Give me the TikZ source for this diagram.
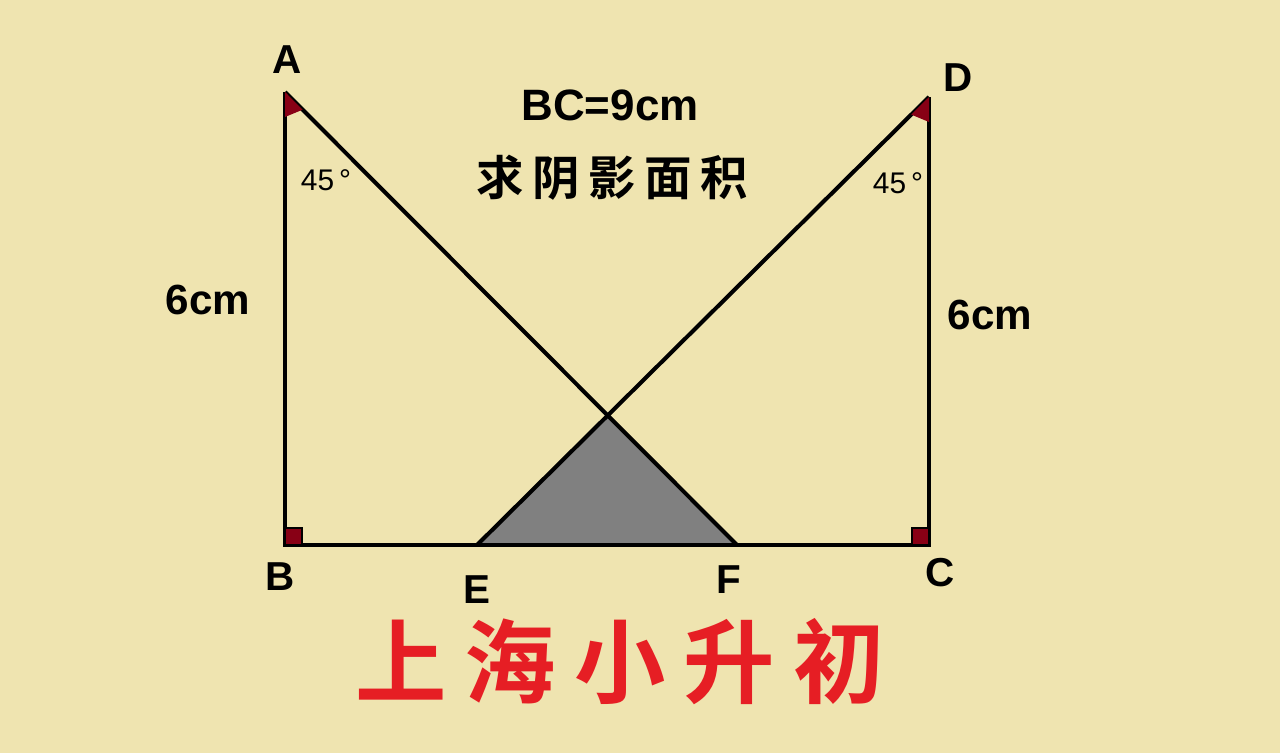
\documentclass[tikz,border=0pt]{standalone}
\usepackage{fontspec}
\setmainfont{Liberation Sans}
\newfontfamily\cjk{Noto Sans CJK SC Bold}
\usetikzlibrary{calc}
\definecolor{paper}{RGB}{239,228,176}
\definecolor{darkred}{RGB}{136,0,21}
\definecolor{titlered}{RGB}{230,30,36}
\definecolor{shadegray}{RGB}{128,128,128}
\tikzset{
    edge/.style={line width=2.3pt},
    anglemark/.style={fill=darkred},
    rightmark/.style={fill=darkred, draw=black, line width=1.3pt},
    pointlabel/.style={font=\bfseries\fontsize{23}{23}\selectfont},
    lengthlabel/.style={font=\bfseries\fontsize{24}{24}\selectfont},
    degreelabel/.style={font=\fontsize{17}{17}\selectfont}
}
\begin{document}
\begin{tikzpicture}[x=0.02cm, y=-0.02cm]

    % background
    \fill[paper] (0,0) rectangle (1280,753);
    \useasboundingbox (0,0) rectangle (1280,753);

    % points
    \coordinate (A) at (285,92);
    \coordinate (B) at (285,545);
    \coordinate (C) at (929,545);
    \coordinate (D) at (929,97);
    \coordinate (E) at (477,545);
    \coordinate (F) at (737,545);
    \coordinate (O) at (intersection of A--F and D--E);

    % shaded triangle
    \fill[shadegray] (E) -- (O) -- (F) -- cycle;

    % sides
    \draw[edge] (A) -- (B) -- (C) -- (D);
    \draw[edge] (A) -- (F);
    \draw[edge] (D) -- (E);

    % angle marks
    \fill[anglemark] (A) -- ($(A)!0.5cm!(B)$) -- ($(A)!0.5cm!(F)$) -- cycle;
    \fill[anglemark] (D) -- ($(D)!0.5cm!(C)$) -- ($(D)!0.5cm!(E)$) -- cycle;
    \draw[rightmark] (B) rectangle ++(17,-17);
    \draw[rightmark] (C) rectangle ++(-17,-17);

    % labels
    \node[pointlabel] (lA) at (287,60) {A};
    \node[pointlabel] (lB) at (280,577) {B};
    \node[pointlabel] (lC) at (940,573) {C};
    \node[pointlabel] (lD) at (958,78) {D};
    \node[pointlabel] (lE) at (477,590) {E};
    \node[pointlabel] (lF) at (729,580) {F};

    \node[degreelabel] (angA) at (326,180) {45\,°};
    \node[degreelabel] (angD) at (898,183) {45\,°};

    \node[lengthlabel] (lAB) at (208,300) {6cm};
    \node[lengthlabel] (lCD) at (990,315) {6cm};

    % question
    \node[font=\bfseries\fontsize{25}{25}\selectfont] (given) at (610,105) {BC=9cm};
    \node[font=\cjk\fontsize{27}{27}\selectfont\addfontfeature{LetterSpace=18}] (ask) at (612,178) {求阴影面积};

    % title
    \node[titlered, font=\cjk\fontsize{52}{52}\selectfont\addfontfeature{LetterSpace=20}] (title) at (620,662) {上海小升初};

\end{tikzpicture}
\end{document}
